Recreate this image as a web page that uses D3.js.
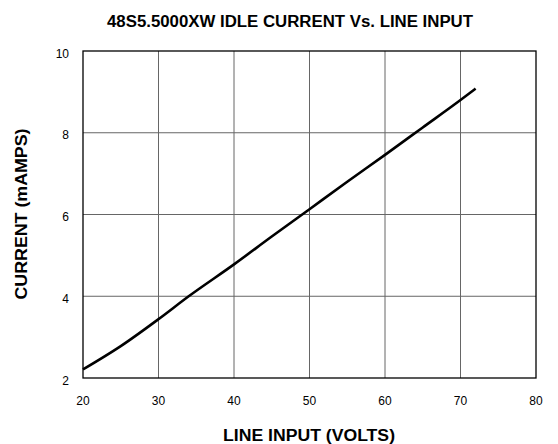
<!DOCTYPE html>
<html>
<head>
<meta charset="utf-8">
<script src="https://cdn.jsdelivr.net/npm/d3@7"></script>
<style>
  body { margin: 0; background: #fff; }
  text { font-family: "Liberation Sans", Arial, Helvetica, sans-serif; }
</style>
</head>
<body>
<svg width="558" height="444"></svg>
<script>
// data
const volts = [20, 25, 30, 34, 40, 45, 50, 55, 60, 65, 70, 72];
const current = [2.21, 2.78, 3.44, 4.0, 4.78, 5.46, 6.13, 6.8, 7.46, 8.13, 8.8, 9.08];
const xTicks = [20, 30, 40, 50, 60, 70, 80];
const yTicks = [2, 4, 6, 8, 10];

const svg = d3.select('svg'),
    margin = { top: 51, right: 22, bottom: 66, left: 83 },
    width = 558 - margin.left - margin.right,
    height = 444 - margin.top - margin.bottom,
    g = svg.append('g').attr('transform', 'translate(' + margin.left + ',' + margin.top + ')');

const x = d3.scaleLinear().domain([20, 80]).range([0, width]);
const y = d3.scaleLinear().domain([2, 10]).range([height, 0]);

// grid
g.append('g')
    .selectAll('line')
    .data(xTicks.slice(1, -1))
    .join('line')
    .attr('x1', d => x(d)).attr('x2', d => x(d))
    .attr('y1', 0).attr('y2', height)
    .attr('stroke', '#666').attr('stroke-width', 1);

g.append('g')
    .selectAll('line')
    .data(yTicks.slice(1, -1))
    .join('line')
    .attr('y1', d => y(d)).attr('y2', d => y(d))
    .attr('x1', 0).attr('x2', width)
    .attr('stroke', '#666').attr('stroke-width', 1);

g.append('rect')
    .attr('width', width).attr('height', height)
    .attr('fill', 'none').attr('stroke', '#000').attr('stroke-width', 1.3);

// tick labels
g.append('g')
    .selectAll('text')
    .data(xTicks)
    .join('text')
    .attr('x', d => x(d))
    .attr('y', height + 27)
    .attr('text-anchor', 'middle')
    .attr('font-size', 12)
    .text(d => d);

g.append('g')
    .selectAll('text')
    .data(yTicks)
    .join('text')
    .attr('x', -14)
    .attr('y', d => y(d))
    .attr('dy', '0.55em')
    .attr('text-anchor', 'end')
    .attr('font-size', 12)
    .text(d => d);

// curve
const line = d3.line()
    .x((d, i) => x(volts[i]))
    .y(d => y(d))
    .curve(d3.curveMonotoneX);

g.append('path')
    .datum(current)
    .attr('d', line)
    .attr('fill', 'none')
    .attr('stroke', '#000')
    .attr('stroke-width', 2.6);

// titles (wide Helvetica look -> stretch to the measured widths)
svg.append('text')
    .attr('x', 290).attr('y', 27)
    .attr('text-anchor', 'middle')
    .attr('font-size', 16).attr('font-weight', 'bold')
    .attr('textLength', 366).attr('lengthAdjust', 'spacingAndGlyphs')
    .text('48S5.5000XW IDLE CURRENT Vs. LINE INPUT');

svg.append('text')
    .attr('x', 309).attr('y', 441)
    .attr('text-anchor', 'middle')
    .attr('font-size', 16).attr('font-weight', 'bold')
    .attr('textLength', 172).attr('lengthAdjust', 'spacingAndGlyphs')
    .text('LINE INPUT (VOLTS)');

svg.append('text')
    .attr('transform', 'translate(27,214) rotate(-90)')
    .attr('text-anchor', 'middle')
    .attr('font-size', 16).attr('font-weight', 'bold')
    .attr('textLength', 171).attr('lengthAdjust', 'spacingAndGlyphs')
    .text('CURRENT (mAMPS)');
</script>
</body>
</html>
